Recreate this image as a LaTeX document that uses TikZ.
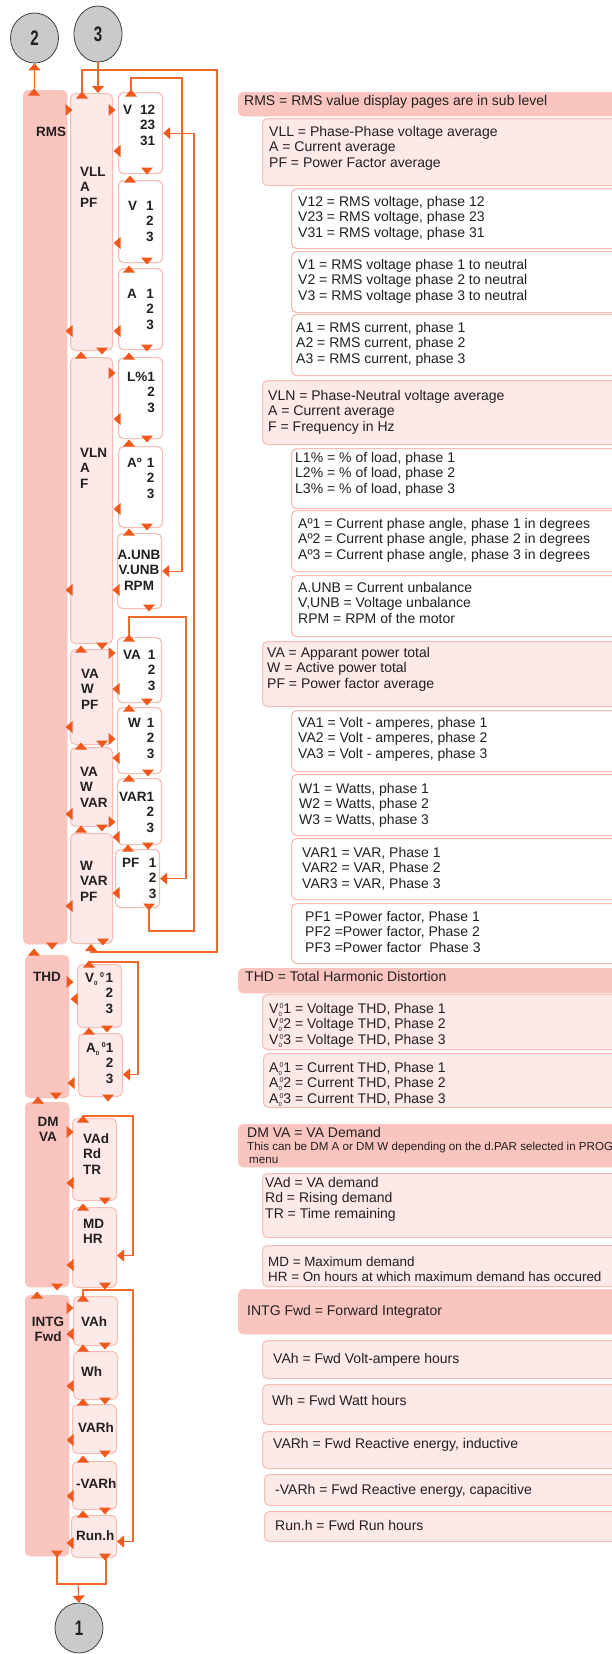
\documentclass[tikz,border=0pt]{standalone}
\usepackage{fontspec}
\setmainfont{Liberation Sans}
\usepackage{graphicx}
\usetikzlibrary{arrows.meta,shapes.geometric}

\definecolor{darkpink}{RGB}{249,197,190}
\definecolor{lightpink}{RGB}{253,233,231}
\definecolor{pinkline}{RGB}{248,188,178}
\definecolor{navcol}{RGB}{240,88,28}
\definecolor{linkcol}{RGB}{241,104,44}
\definecolor{inktext}{RGB}{35,31,32}
\definecolor{discgray}{RGB}{202,202,202}

\newcommand{\rows}[1]{\begin{tabular}[t]{@{}l@{}}#1\end{tabular}}
\newcommand{\crows}[1]{\begin{tabular}[t]{@{}c@{}}#1\end{tabular}}
\newcommand{\pg}[5]{\begin{tabular}[t]{@{}l@{\hspace{#2pt}}r@{}}#1&#3\\&#4\\&#5\end{tabular}}
\newcommand{\thdsym}[2][6]{#2\rlap{\raisebox{-3pt}{\fontsize{6}{6}\selectfont 0}}\hspace{#1pt}\raisebox{5pt}{\fontsize{7}{7}\selectfont 0}}

\begin{document}
\begin{tikzpicture}[
  x=1pt, y=-1pt,
  headbox/.style={draw=darkpink, fill=darkpink, rounded corners=5pt, anchor=north west, inner sep=0},
  levelbox/.style={draw=pinkline, fill=lightpink, line width=1pt, rounded corners=5pt, anchor=north west, inner sep=0},
  pagebox/.style={draw=pinkline, fill=white, line width=1.2pt, rounded corners=5pt, anchor=north west, inner sep=0},
  disc/.style={ellipse, draw=black!75, fill=discgray, line width=0.8pt, minimum width=48pt, minimum height=50pt,
    font=\bfseries\fontsize{21}{21}\selectfont, text=inktext},
  key/.style={anchor=base west, inner sep=0, text=inktext, font=\bfseries\fontsize{13.5}{15.5}\selectfont},
  desc/.style={anchor=base west, inner sep=0, text=inktext, font=\fontsize{14}{15.7}\selectfont},
  link/.style={draw=linkcol, line width=1.1pt},
  tip/.style={-{Triangle[width=12pt,length=7pt,color=navcol]}}
]
  \useasboundingbox (0,0) rectangle (611,1654);

  % menu levels
  \node[headbox, minimum width=44pt, minimum height=854pt] (rms)  at (23,90)   {};
  \node[headbox, minimum width=44pt, minimum height=143pt] (thd)  at (25,955)  {};
  \node[headbox, minimum width=44pt, minimum height=185pt] (dm)   at (25,1102) {};
  \node[headbox, minimum width=44pt, minimum height=261pt] (intg) at (25,1295) {};

  \node[levelbox, minimum width=42pt, minimum height=257pt] (vll)    at (70,93)  {};
  \node[levelbox, minimum width=42pt, minimum height=286pt] (vln)    at (70,357) {};
  \node[levelbox, minimum width=42pt, minimum height=95pt]  (vawpf)  at (70,649) {};
  \node[levelbox, minimum width=42pt, minimum height=79pt]  (vawvar) at (70,747) {};
  \node[levelbox, minimum width=42pt, minimum height=110pt] (wvarpf) at (70,833) {};

  \node[pagebox, minimum width=44pt, minimum height=81pt] (v12)  at (118,92)  {};
  \node[pagebox, minimum width=44pt, minimum height=82pt] (v123) at (118,180) {};
  \node[pagebox, minimum width=44pt, minimum height=81pt] (a123) at (118,268) {};
  \node[pagebox, minimum width=44pt, minimum height=81pt] (lp)   at (118,357) {};
  \node[pagebox, minimum width=44pt, minimum height=81pt] (adeg) at (118,446) {};
  \node[pagebox, minimum width=44pt, minimum height=75pt] (unb)  at (117,533) {};
  \node[pagebox, minimum width=44pt, minimum height=65pt] (va1)  at (117,637) {};
  \node[pagebox, minimum width=44pt, minimum height=66pt] (w1)   at (117,707) {};
  \node[pagebox, minimum width=44pt, minimum height=66pt] (var1) at (117,778) {};
  \node[pagebox, minimum width=44pt, minimum height=58pt] (pf1)  at (115,849) {};

  \node[levelbox, minimum width=44pt, minimum height=63pt] (vthd)  at (77,964)  {};
  \node[levelbox, minimum width=44pt, minimum height=63pt] (athd)  at (78,1033) {};
  \node[levelbox, minimum width=44pt, minimum height=82pt] (vad)   at (72,1118) {};
  \node[levelbox, minimum width=44pt, minimum height=80pt] (mdhr)  at (72,1207) {};
  \node[levelbox, minimum width=44pt, minimum height=49pt] (vah)   at (73,1296) {};
  \node[levelbox, minimum width=44pt, minimum height=48pt] (wh)    at (73,1351) {};
  \node[levelbox, minimum width=44pt, minimum height=49pt] (varh)  at (72,1404) {};
  \node[levelbox, minimum width=44pt, minimum height=48pt] (nvarh) at (72,1461) {};
  \node[levelbox, minimum width=45pt, minimum height=42pt] (runh)  at (71,1515) {};

  % explanations
  \node[headbox, minimum width=387pt, minimum height=24pt] (drms)   at (238,92)   {};
  \node[levelbox, minimum width=363pt, minimum height=67pt] (dvll)  at (262,118)  {};
  \node[pagebox, minimum width=334pt, minimum height=60pt] (dv12)   at (291,188)  {};
  \node[pagebox, minimum width=334pt, minimum height=61pt] (dv123)  at (291,251)  {};
  \node[pagebox, minimum width=334pt, minimum height=61pt] (da123)  at (291,314)  {};
  \node[levelbox, minimum width=363pt, minimum height=64pt] (dvln)  at (262,380)  {};
  \node[pagebox, minimum width=334pt, minimum height=60pt] (dlp)    at (291,448)  {};
  \node[pagebox, minimum width=334pt, minimum height=61pt] (dadeg)  at (291,510)  {};
  \node[pagebox, minimum width=334pt, minimum height=61pt] (dunb)   at (291,575)  {};
  \node[levelbox, minimum width=363pt, minimum height=65pt] (dvawpf) at (262,641) {};
  \node[pagebox, minimum width=334pt, minimum height=61pt] (dva1)   at (291,710)  {};
  \node[pagebox, minimum width=334pt, minimum height=61pt] (dw1)    at (291,774)  {};
  \node[pagebox, minimum width=334pt, minimum height=61pt] (dvar1)  at (291,838)  {};
  \node[pagebox, minimum width=334pt, minimum height=60pt] (dpf1)   at (291,903)  {};
  \node[headbox, minimum width=387pt, minimum height=25pt] (dthd)   at (238,968)  {};
  \node[levelbox, minimum width=363pt, minimum height=55pt] (dvthd) at (262,994)  {};
  \node[levelbox, minimum width=362pt, minimum height=54pt] (dathd) at (263,1053) {};
  \node[headbox, minimum width=387pt, minimum height=43pt] (ddm)    at (238,1124) {};
  \node[levelbox, minimum width=363pt, minimum height=64pt] (dvad)  at (262,1173) {};
  \node[levelbox, minimum width=363pt, minimum height=41pt] (dmdhr) at (262,1245) {};
  \node[headbox, minimum width=387pt, minimum height=45pt] (dintg)  at (238,1289) {};
  \node[levelbox, minimum width=363pt, minimum height=38pt] (dvah)  at (262,1340) {};
  \node[levelbox, minimum width=363pt, minimum height=40pt] (dwh)   at (262,1384) {};
  \node[levelbox, minimum width=363pt, minimum height=37pt] (dvarh) at (262,1431) {};
  \node[levelbox, minimum width=361pt, minimum height=31pt] (dnvarh) at (264,1474) {};
  \node[levelbox, minimum width=361pt, minimum height=30pt] (drunh) at (264,1511) {};

  % page numbers
  \node[disc] (c2) at (34.5,38) {\scalebox{0.72}[1]{2}};
  \node[disc, minimum height=56pt] (c3) at (98,34) {\scalebox{0.72}[1]{3}};
  \node[disc] (c1) at (79,1628) {\scalebox{0.72}[1]{1}};

  % loops
  \draw[link, tip] (c2 |- rms.north) -- (c2.south);
  \draw[link, tip] (c3.south) -- (c3 |- vll.north);
  \draw[link, tip] ([xshift=12pt]vll.north west) |- (217,70) |- (91,952) -- ([xshift=21pt]wvarpf.south west);
  \draw[link, tip] ([xshift=13pt]v12.north west) |- (182,78) |- (unb.east);
  \draw[link, tip] ([xshift=34pt]pf1.south west) |- (194,931) |- (v12.east);
  \draw[link, tip] ([xshift=12pt]va1.north west) |- (186,617) |- (pf1.east);
  \draw[link, tip] ([xshift=12pt]vthd.north west) |- (138,962) |- ([yshift=-9.5pt]athd.east);
  \draw[link, tip] ([xshift=11pt]vad.north west) |- (133,1116) |- ([yshift=-8pt]mdhr.east);
  \draw[link, tip] ([xshift=10pt]vah.north west) |- (133,1290) |- ([yshift=-5pt]runh.east);
  \draw[link] ([xshift=32pt]intg.south west) |- (106,1584) -| ([xshift=35pt]runh.south west);
  \coordinate (join) at (78,1584);
  \draw[link, tip] (join) -- (c1.north);

  % up, down, enter and back keys
  \foreach \px/\py/\ang in {
    34/92/90, 82/95/90, 69/110/0, 112/110/0, 131/93/90, 117/151/180, 147/171/270,
    130/179/90, 117/243/180, 147/261/270, 129/269/90, 69/331/180, 117/331/180,
    147/348/270, 102/351/270, 81/355/90, 129/356/90, 112/373/0, 117/419/180,
    147/439/270, 129/443/90, 117/509/180, 147/527/270, 129/532/90, 69/590/180,
    116/590/180, 149/608/270, 129/638/90, 102/646/270, 81/649/90, 112/653/0,
    116/689/180, 147/702/270, 129/708/90, 69/727/180, 112/739/0, 102/744/270,
    81/746/90, 116/758/180, 148/773/270, 129/778/90, 69/814/180, 112/822/0,
    102/828/270, 81/829/90, 116/837/180, 148/846/270, 128/848/90, 116/893/180,
    69/906/180, 149/907/270, 103/942/270, 52/946/270,
    34/952/90, 89/964/90, 70/982/0, 74/999/180, 107/1029/270, 89/1031/90,
    71/1083/180, 108/1098/270, 38/1100/90, 56/1096/270,
    70/1132/0, 83/1119/90, 70/1183/180, 105/1201/270, 83/1207/90, 70/1265/180,
    105/1286/270, 57/1287/270,
    37/1295/90, 83/1298/90, 70/1308/0, 70/1334/180, 105/1346/270, 83/1348/90,
    70/1386/180, 105/1401/270, 83/1402/90, 70/1440/180, 105/1454/270, 83/1459/90,
    70/1496/180, 105/1511/270, 83/1514/90, 70/1543/180, 57/1554/270, 105/1557/270}
    {\fill[navcol, shift={(\px,\py)}, rotate=\ang] (3.5,0) -- (-3.5,6) -- (-3.5,-6) -- cycle;}

  % menu texts
  \node[key] (k-rms) at (36,136) {RMS};
  \node[key] (k-vll) at (80,176) {\rows{VLL\\A\\PF}};
  \node[key] (k-v12) at (123,114) {\pg{V}{8}{12}{23}{31}};
  \node[key] (k-v123) at (128,210) {\pg{V}{9}{1}{2}{3}};
  \node[key] (k-a123) at (127,298) {\pg{A}{9.5}{1}{2}{3}};
  \node[key] (k-lp) at (127,381) {\pg{L\%}{0}{1}{2}{3}};
  \node[key] (k-adeg) at (127,467) {\pg{Aº}{5}{1}{2}{3}};
  \node[key] (k-vln) at (80,457) {\rows{VLN\\A\\F}};
  \node[key, anchor=base] (k-unb) at (139,559) {\crows{A.UNB\\V.UNB\\RPM}};
  \node[key] (k-va1) at (123,659) {\pg{VA}{7}{1}{2}{3}};
  \node[key] (k-vawpf) at (81,678) {\rows{VA\\W\\PF}};
  \node[key] (k-w1) at (128,727) {\pg{W}{6}{1}{2}{3}};
  \node[key] (k-vawvar) at (80,776) {\rows{VA\\W\\VAR}};
  \node[key] (k-var1) at (119,801) {\pg{VAR}{0}{1}{2}{3}};
  \node[key] (k-wvarpf) at (80,870) {\rows{W\\VAR\\PF}};
  \node[key] (k-pf1) at (122,867) {\pg{PF}{9.5}{1}{2}{3}};
  \node[key] (k-thd) at (33,981) {THD};
  \node[key] (k-vthd) at (85,982) {\pg{\thdsym{V}}{1.5}{1}{2}{3}};
  \node[key] (k-athd) at (86,1052) {\pg{\thdsym{A}}{0}{1}{2}{3}};
  \node[key, anchor=base] (k-dm) at (48,1126) {\crows{DM\\VA}};
  \node[key] (k-vad) at (83,1143) {\rows{VAd\\Rd\\TR}};
  \node[key] (k-mdhr) at (83,1228) {\rows{MD\\HR}};
  \node[key, anchor=base] (k-intg) at (48,1326) {\crows{INTG\\Fwd}};
  \node[key] (k-vah) at (81,1326) {VAh};
  \node[key] (k-wh) at (81,1376) {Wh};
  \node[key] (k-varh) at (78,1432) {VARh};
  \node[key] (k-nvarh) at (76,1488) {-VARh};
  \node[key] (k-runh) at (76,1540) {Run.h};

  % explanation texts
  \node[desc] (t-rms) at (244,105) {RMS = RMS value display pages are in sub level};
  \node[desc] (t-vll) at (269,136) {\rows{VLL = Phase-Phase voltage average\\A = Current average\\PF = Power Factor average}};
  \node[desc] (t-v12) at (298,206) {\rows{V12 = RMS voltage, phase 12\\V23 = RMS voltage, phase 23\\V31 = RMS voltage, phase 31}};
  \node[desc] (t-v123) at (298,269) {\rows{V1 = RMS voltage phase 1 to neutral\\V2 = RMS voltage phase 2 to neutral\\V3 = RMS voltage phase 3 to neutral}};
  \node[desc] (t-a123) at (296,332) {\rows{A1 = RMS current, phase 1\\A2 = RMS current, phase 2\\A3 = RMS current, phase 3}};
  \node[desc] (t-vln) at (268,400) {\rows{VLN = Phase-Neutral voltage average\\A = Current average\\F = Frequency in Hz}};
  \node[desc] (t-lp) at (295,462) {\rows{L1\% = \% of load, phase 1\\L2\% = \% of load, phase 2\\L3\% = \% of load, phase 3}};
  \node[desc] (t-adeg) at (298,528) {\rows{Aº1 = Current phase angle, phase 1 in degrees\\Aº2 = Current phase angle, phase 2 in degrees\\Aº3 = Current phase angle, phase 3 in degrees}};
  \node[desc] (t-unb) at (298,592) {\rows{A.UNB = Current unbalance\\V,UNB = Voltage unbalance\\RPM = RPM of the motor}};
  \node[desc] (t-vawpf) at (267,657) {\rows{VA = Apparant power total\\W = Active power total\\PF = Power factor average}};
  \node[desc] (t-va1) at (298,727) {\rows{VA1 = Volt - amperes, phase 1\\VA2 = Volt - amperes, phase 2\\VA3 = Volt - amperes, phase 3}};
  \node[desc] (t-w1) at (299,793) {\rows{W1 = Watts, phase 1\\W2 = Watts, phase 2\\W3 = Watts, phase 3}};
  \node[desc] (t-var1) at (302,857) {\rows{VAR1 = VAR, Phase 1\\VAR2 = VAR, Phase 2\\VAR3 = VAR, Phase 3}};
  \node[desc] (t-pf1) at (305,921) {\rows{PF1 =Power factor, Phase 1\\PF2 =Power factor, Phase 2\\PF3 =Power factor\ \ Phase 3}};
  \node[desc] (t-thd) at (245,981) {THD = Total Harmonic Distortion};
  \node[desc] (t-vthd) at (269,1013) {\rows{\thdsym[1]{V}1 = Voltage THD, Phase 1\\\thdsym[1]{V}2 = Voltage THD, Phase 2\\\thdsym[1]{V}3 = Voltage THD, Phase 3}};
  \node[desc] (t-athd) at (269,1072) {\rows{\thdsym[1]{A}1 = Current THD, Phase 1\\\thdsym[1]{A}2 = Current THD, Phase 2\\\thdsym[1]{A}3 = Current THD, Phase 3}};
  \node[desc] (t-dm) at (247,1137) {DM VA = VA Demand};
  \node[desc, font=\fontsize{11.6}{13.3}\selectfont] (t-dmnote) at (247,1150) {\rows{This can be DM A or DM W depending on the d.PAR selected in PROG\\\hspace{2pt}menu}};
  \node[desc] (t-vad) at (265,1187) {\rows{VAd = VA demand\\Rd = Rising demand\\TR = Time remaining}};
  \node[desc, font=\fontsize{13.4}{15.7}\selectfont] (t-mdhr) at (268,1266) {\rows{MD = Maximum demand\\HR = On hours at which maximum demand has occured}};
  \node[desc] (t-intg) at (247,1315) {INTG Fwd = Forward Integrator};
  \node[desc] (t-vah) at (273,1363) {VAh = Fwd Volt-ampere hours};
  \node[desc] (t-wh) at (272,1405) {Wh = Fwd Watt hours};
  \node[desc] (t-varh) at (273,1448) {VARh = Fwd Reactive energy, inductive};
  \node[desc] (t-nvarh) at (275,1494) {-VARh = Fwd Reactive energy, capacitive};
  \node[desc] (t-runh) at (275,1530) {Run.h = Fwd Run hours};
\end{tikzpicture}
\end{document}
